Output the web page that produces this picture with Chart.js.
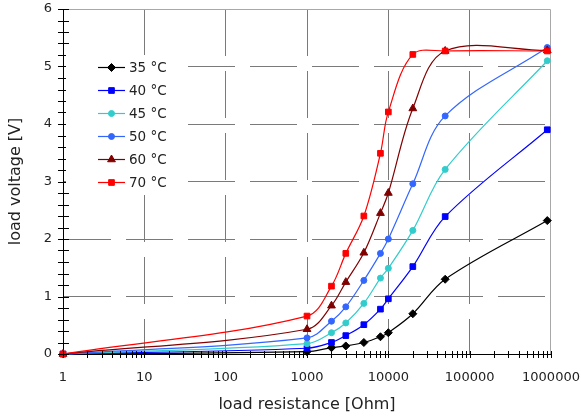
<!DOCTYPE html>
<html>
<head>
<meta charset="utf-8">
<script src="https://cdn.jsdelivr.net/npm/chart.js@4.4.1/dist/chart.umd.min.js"></script>
<style>
  html, body { margin: 0; padding: 0; background: #fff; }
  #wrap { width: 581px; height: 418px; }
</style>
</head>
<body>
<div id="wrap"><canvas id="loadChart" width="581" height="418"></canvas></div>
<script>
// load resistance [Ohm] of each measuring point
const resistance = [1, 1000, 2000, 3000, 5000, 8000, 10000, 20000, 50000, 900000];

const temps = ['35 °C', '40 °C', '45 °C', '50 °C', '60 °C', '70 °C'];

// load voltage [V] per temperature
const v35 = [0, 0.04, 0.11, 0.14, 0.20, 0.30, 0.37, 0.70, 1.30, 2.32];
const v40 = [0, 0.10, 0.20, 0.32, 0.51, 0.78, 0.96, 1.52, 2.39, 3.90];
const v45 = [0, 0.18, 0.37, 0.54, 0.88, 1.32, 1.49, 2.15, 3.21, 5.10];
const v50 = [0, 0.28, 0.57, 0.82, 1.28, 1.75, 2.00, 2.96, 4.14, 5.33];
const v60 = [0, 0.43, 0.84, 1.25, 1.76, 2.45, 2.80, 4.27, 5.27, 5.28];
const v70 = [0, 0.66, 1.18, 1.75, 2.40, 3.49, 4.21, 5.21, 5.27, 5.27];

const seriesValues = [v35, v40, v45, v50, v60, v70];

// axis ticks
const xDecades = [1, 10, 100, 1000, 10000, 100000, 1000000];
const yMajor = [0, 1, 2, 3, 4, 5, 6];

const colors = ['#000000', '#0000ff', '#33cccc', '#3366ff', '#800000', '#ff0000'];
const markers = ['rectRot', 'rect', 'circle', 'circle', 'triangle', 'rect'];
const markerSizes = [4, 4, 3, 3, 4.5, 4];

const xTicks = [];
xDecades.forEach((d, i) => {
  if (i === xDecades.length - 1) { xTicks.push(d); return; }
  for (let m = 1; m < 10; m++) xTicks.push(d * m);
});
const yTicks = [];
yMajor.forEach((v, i) => {
  if (i === yMajor.length - 1) { yTicks.push(v); return; }
  for (let k = 0; k < 5; k++) yTicks.push(Math.round((v + k * 0.2) * 10) / 10);
});

const isDecade = (v) => xDecades.includes(v);
const isWhole = (v) => Math.abs(v - Math.round(v)) < 1e-6;

Chart.defaults.font.family = "'DejaVu Sans', Verdana, sans-serif";
Chart.defaults.color = '#222';

// light frame on top / right side of the plot
const plotFrame = {
  id: 'plotFrame',
  beforeDatasetsDraw(chart) {
    const { ctx, chartArea: a } = chart;
    ctx.save();
    ctx.strokeStyle = '#a8a8a8';
    ctx.lineWidth = 1;
    ctx.beginPath();
    ctx.moveTo(Math.round(a.left) + 0.5, Math.round(a.top) + 0.5);
    ctx.lineTo(Math.round(a.right) - 0.5, Math.round(a.top) + 0.5);
    ctx.lineTo(Math.round(a.right) - 0.5, Math.round(a.bottom));
    ctx.stroke();
    ctx.restore();
  }
};

// tick marks crossing both axes
const crossTicks = {
  id: 'crossTicks',
  afterDatasetsDraw(chart) {
    const { ctx, chartArea: a, scales: { x, y } } = chart;
    ctx.save();
    ctx.strokeStyle = '#000';
    ctx.lineWidth = 1;
    ctx.beginPath();
    x.ticks.forEach(t => {
      const px = Math.round(x.getPixelForValue(t.value)) + 0.5;
      ctx.moveTo(px, a.bottom - 3);
      ctx.lineTo(px, a.bottom + 4);
    });
    y.ticks.forEach(t => {
      const py = Math.round(y.getPixelForValue(t.value)) + 0.5;
      ctx.moveTo(a.left - 5, py);
      ctx.lineTo(a.left + 6, py);
    });
    ctx.stroke();
    ctx.restore();
  }
};

// legend box inside the plot, line sample with marker
const insideLegend = {
  id: 'insideLegend',
  afterDraw(chart) {
    const { ctx, chartArea: a } = chart;
    const bx = a.left + 3, by = a.top + 46;
    ctx.save();
    ctx.fillStyle = '#fff';
    ctx.fillRect(bx, by, 121, 138);
    ctx.font = "13.5px 'DejaVu Sans', Verdana, sans-serif";
    ctx.textBaseline = 'middle';
    ctx.textAlign = 'left';
    chart.data.datasets.forEach((ds, i) => {
      const cy = by + 12.5 + i * 23;
      ctx.strokeStyle = ds.borderColor;
      ctx.fillStyle = ds.backgroundColor;
      ctx.lineWidth = 1.2;
      ctx.beginPath();
      ctx.moveTo(bx + 32, cy);
      ctx.lineTo(bx + 59, cy);
      ctx.stroke();
      ctx.lineWidth = 1;
      Chart.helpers.drawPoint(ctx, {
        pointStyle: ds.pointStyle, radius: ds.pointRadius, rotation: 0, borderWidth: 1
      }, bx + 45.5, cy);
      ctx.fillStyle = '#222';
      ctx.fillText(ds.label, bx + 63, cy + 1);
    });
    ctx.restore();
  }
};

const datasets = seriesValues.map((vals, i) => ({
  label: temps[i],
  data: vals.map((v, j) => ({ x: resistance[j], y: v })),
  borderColor: colors[i],
  backgroundColor: colors[i],
  pointStyle: markers[i],
  pointRadius: markerSizes[i],
  pointBorderWidth: 1,
  borderWidth: 1.2,
  tension: 0.35,
  clip: false,
  order: seriesValues.length - i
}));

new Chart(document.getElementById('loadChart'), {
  type: 'line',
  data: { datasets },
  options: {
    responsive: false,
    animation: false,
    layout: { padding: { top: 9, right: 30, left: 0, bottom: 0 } },
    plugins: { legend: { display: false }, tooltip: { enabled: false } },
    scales: {
      x: {
        type: 'logarithmic',
        min: 1,
        max: 1000000,
        afterBuildTicks: (s) => { s.ticks = xTicks.map(v => ({ value: v })); },
        afterFit: (s) => { s.height = 64; s.paddingLeft = 0; s.paddingRight = 0; },
        ticks: {
          autoSkip: false,
          maxRotation: 0,
          padding: 16,
          font: { size: 13 },
          callback: (v) => (isDecade(v) ? String(v) : '')
        },
        grid: {
          drawTicks: false,
          lineWidth: 1,
          color: (c) => {
            const v = c.tick && c.tick.value;
            return (isDecade(v) && v > 1 && v < 1000000) ? '#7a7a7a' : 'transparent';
          }
        },
        border: { display: true, color: '#000', width: 1, dash: [47, 15] },
        title: {
          display: true,
          text: 'load resistance [Ohm]',
          font: { size: 16 },
          padding: { top: 0, bottom: 4 }
        }
      },
      y: {
        min: 0,
        max: 6,
        afterBuildTicks: (s) => { s.ticks = yTicks.map(v => ({ value: v })); },
        afterFit: (s) => { s.width = 63; s.paddingTop = 0; s.paddingBottom = 0; },
        ticks: {
          autoSkip: false,
          padding: 11,
          font: { size: 13 },
          callback: (v) => (isWhole(v) ? String(Math.round(v)) : '')
        },
        grid: {
          drawTicks: false,
          lineWidth: 1,
          color: (c) => {
            const v = c.tick && c.tick.value;
            return (isWhole(v) && v > 0 && v < 6) ? '#7a7a7a' : 'transparent';
          }
        },
        border: { display: true, color: '#000', width: 1, dash: [47, 15] },
        title: {
          display: true,
          text: 'load voltage [V]',
          font: { size: 16 },
          padding: { top: 6, bottom: 0 }
        }
      }
    }
  },
  plugins: [plotFrame, crossTicks, insideLegend]
});
</script>
</body>
</html>
